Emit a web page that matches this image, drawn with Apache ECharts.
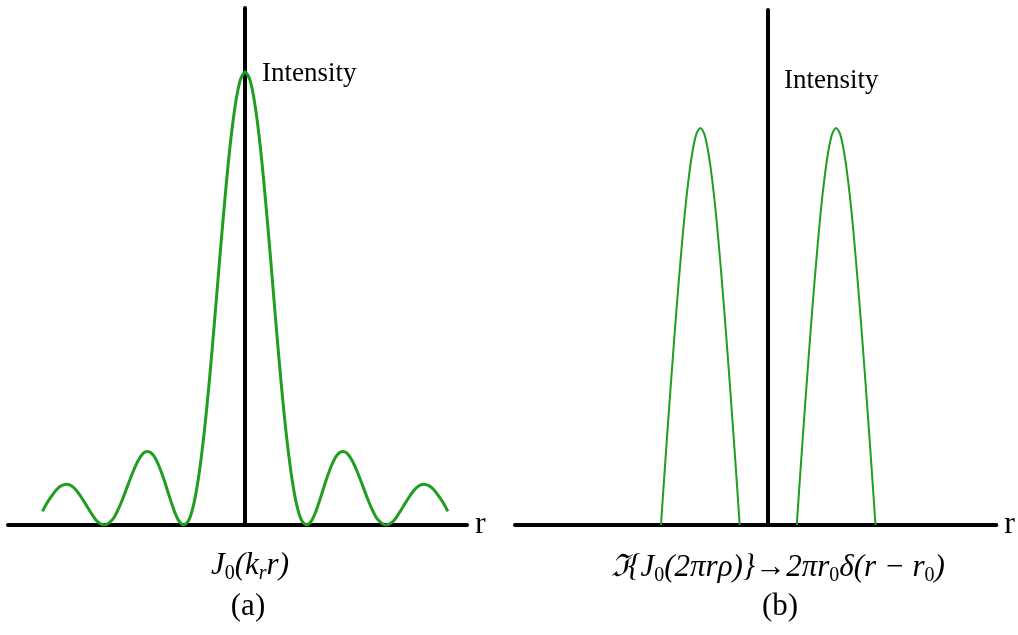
<!DOCTYPE html>
<html><head><meta charset="utf-8">
<script src="https://cdn.jsdelivr.net/npm/echarts@6/dist/echarts.min.js"></script>
<style>html,body{margin:0;padding:0;background:#fff}#c{width:1018px;height:635px}</style>
</head><body><div id="c"></div>
<script>
// Panel (a): intensity profile (r in arbitrary units, intensity normalised to central peak)
const rA = [-7.95,-7.8,-7.6,-7.4,-7.2,-7.0,-6.8,-6.6,-6.4,-6.2,-6.0,-5.8,-5.52,-5.2,-5.0,-4.8,-4.6,-4.4,-4.2,-4.0,-3.83,-3.6,-3.4,-3.2,-3.0,-2.8,-2.6,-2.405,-2.2,-2.0,-1.8,-1.6,-1.4,-1.2,-1.0,-0.8,-0.6,-0.4,-0.2,0,
  0.2,0.4,0.6,0.8,1.0,1.2,1.4,1.6,1.8,2.0,2.2,2.405,2.6,2.8,3.0,3.2,3.4,3.6,3.83,4.0,4.2,4.4,4.6,4.8,5.0,5.2,5.52,5.8,6.0,6.2,6.4,6.6,6.8,7.0,7.2,7.4,7.6,7.8,7.95];
const intensityA = [0.030,0.046,0.063,0.078,0.087,0.090,0.086,0.075,0.059,0.041,0.023,0.008,0,0.012,0.032,0.058,0.088,0.117,0.142,0.158,0.162,0.154,0.133,0.103,0.068,0.034,0.009,0,0.012,0.050,0.116,0.207,0.321,0.450,0.586,0.716,0.832,0.922,0.980,1,
  0.980,0.922,0.832,0.716,0.586,0.450,0.321,0.207,0.116,0.050,0.012,0,0.009,0.034,0.068,0.103,0.133,0.154,0.162,0.158,0.142,0.117,0.088,0.058,0.032,0.012,0,0.008,0.023,0.041,0.059,0.075,0.086,0.090,0.087,0.078,0.063,0.046,0.030];

// Panel (b): two peaks at -r0 and +r0 (r in units of r0)
const rB1 = [-1.58,-1.522,-1.464,-1.406,-1.348,-1.29,-1.232,-1.174,-1.116,-1.058,-1.0,-0.942,-0.884,-0.826,-0.768,-0.71,-0.652,-0.594,-0.536,-0.478,-0.42];
const rB2 = [0.42,0.478,0.536,0.594,0.652,0.71,0.768,0.826,0.884,0.942,1.0,1.058,1.116,1.174,1.232,1.29,1.348,1.406,1.464,1.522,1.58];
const intensityB = [0,0.145,0.285,0.42,0.55,0.67,0.78,0.87,0.94,0.985,1,0.985,0.94,0.87,0.78,0.67,0.55,0.42,0.285,0.145,0];

const green = '#1f9e1f';
const serif = '"Liberation Serif","Times New Roman",serif';
const pair = (xs, ys) => xs.map((x, i) => [x, ys[i]]);

const axisCommon = {
  type: 'value',
  axisTick: {show: false}, axisLabel: {show: false}, splitLine: {show: false},
  axisLine: {show: true, onZero: true, lineStyle: {color: '#000', width: 4}}
};

const chart = echarts.init(document.getElementById('c'));
chart.setOption({
  animation: false,
  backgroundColor: '#fff',
  grid: [
    {left: 8, top: 8, width: 459, height: 517},
    {left: 515, top: 10, width: 482, height: 515}
  ],
  xAxis: [
    Object.assign({}, axisCommon, {gridIndex: 0, min: -9.3, max: 8.7, name: 'r', nameLocation: 'end', nameGap: 8,
      nameTextStyle: {fontFamily: serif, fontSize: 32, color: '#000', verticalAlign: 'middle'}}),
    Object.assign({}, axisCommon, {gridIndex: 1, min: -3.73, max: 3.36, name: 'r', nameLocation: 'end', nameGap: 8,
      nameTextStyle: {fontFamily: serif, fontSize: 32, color: '#000', verticalAlign: 'middle'}})
  ],
  yAxis: [
    Object.assign({}, axisCommon, {gridIndex: 0, min: 0, max: 1.141}),
    Object.assign({}, axisCommon, {gridIndex: 1, min: 0, max: 1.297})
  ],
  series: [
    {type: 'line', xAxisIndex: 0, yAxisIndex: 0, data: pair(rA, intensityA), smooth: 0.3, showSymbol: false,
      lineStyle: {color: green, width: 3}, z: 1},
    {type: 'line', xAxisIndex: 1, yAxisIndex: 1, data: pair(rB1, intensityB), smooth: 0.3, showSymbol: false,
      lineStyle: {color: green, width: 2}, z: 1},
    {type: 'line', xAxisIndex: 1, yAxisIndex: 1, data: pair(rB2, intensityB), smooth: 0.3, showSymbol: false,
      lineStyle: {color: green, width: 2}, z: 1}
  ],
  graphic: [
    {type: 'text', x: 262, y: 74, style: {text: 'Intensity', font: '27px ' + serif, fill: '#000', align: 'left', verticalAlign: 'middle'}},
    {type: 'text', x: 784, y: 81, style: {text: 'Intensity', font: '27px ' + serif, fill: '#000', align: 'left', verticalAlign: 'middle'}},
    {type: 'text', x: 250, y: 566, style: {
      text: 'J{s|0}(k{si|r}r)', font: 'italic 31px ' + serif, fill: '#000', align: 'center', verticalAlign: 'middle', lineHeight: 36,
      rich: {s: {fontFamily: serif, fontSize: 20, fontStyle: 'normal', lineHeight: 15, verticalAlign: 'bottom', fill: '#000'},
             si: {fontFamily: serif, fontSize: 20, fontStyle: 'italic', lineHeight: 15, verticalAlign: 'bottom', fill: '#000'}}}},
    {type: 'text', x: 778, y: 568, style: {
      text: 'ℑ{J{s|0}(2πrρ)}→2πr{s|0}δ(r − r{s|0})', font: 'italic 31px ' + serif, fill: '#000', align: 'center', verticalAlign: 'middle', lineHeight: 36,
      rich: {s: {fontFamily: serif, fontSize: 20, fontStyle: 'normal', lineHeight: 15, verticalAlign: 'bottom', fill: '#000'}}}},
    {type: 'text', x: 248, y: 607, style: {text: '(a)', font: '31px ' + serif, fill: '#000', align: 'center', verticalAlign: 'middle'}},
    {type: 'text', x: 780, y: 607, style: {text: '(b)', font: '31px ' + serif, fill: '#000', align: 'center', verticalAlign: 'middle'}}
  ]
});
</script>
</body></html>
